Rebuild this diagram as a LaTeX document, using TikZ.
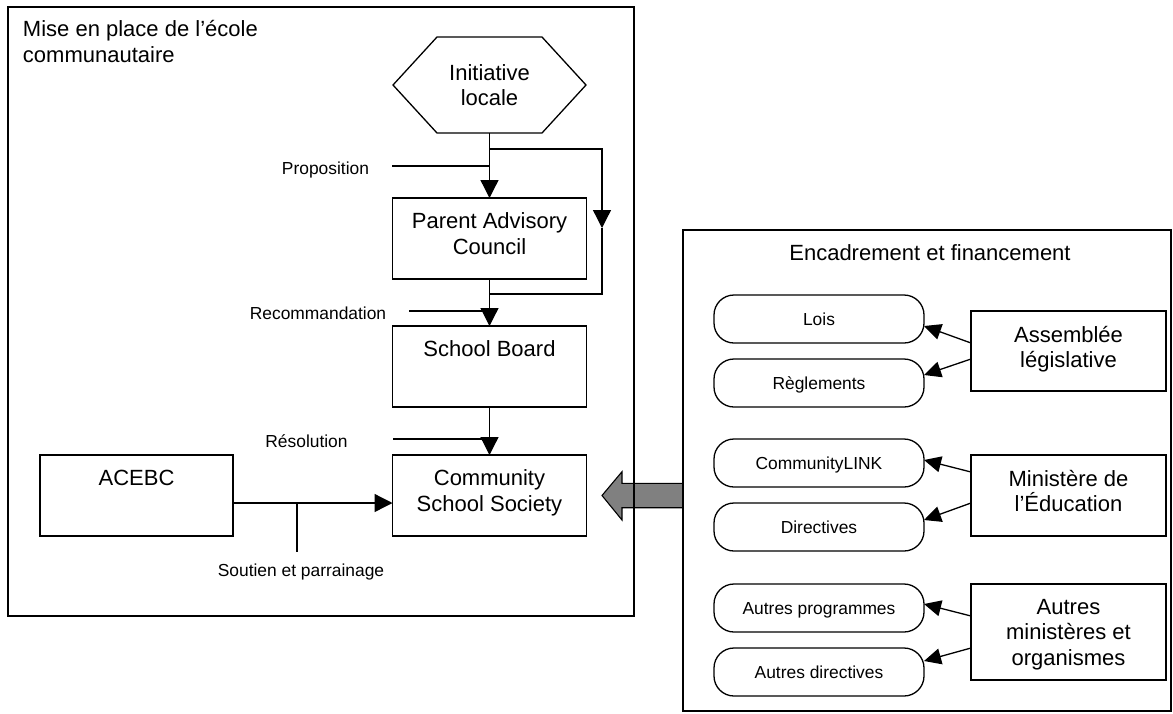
\documentclass[tikz,border=0pt]{standalone}
\usepackage{fontspec}
\setmainfont{Liberation Sans}
\usetikzlibrary{arrows.meta}
\definecolor{arrowgray}{HTML}{808080}
\begin{document}
\begin{tikzpicture}[x=1pt,y=-1pt,
  every node/.style={inner sep=0pt, outer sep=0pt},
  ln/.style={line width=1.3pt},
  bigtext/.style={font=\fontsize{22}{25.5}\selectfont, align=center},
  smalltext/.style={font=\fontsize{17.4}{20}\selectfont},
  box/.style={draw, line width=1.3pt, minimum width=194pt, minimum height=81pt},
  rbox/.style={draw, line width=1.3pt, rounded corners=20pt, minimum width=210pt, minimum height=48pt, smalltext, text height=13pt, text depth=0.8pt},
  arr/.style={line width=1.3pt, -{Triangle[length=18pt,width=18pt]}},
  arrs/.style={line width=1.3pt, -{Triangle[length=17pt,width=16pt]}}
]
\useasboundingbox (0,0) rectangle (1173,713);

% gray block arrow
\draw[line width=1.1pt, fill=arrowgray, line join=miter]
  (683,483.3) -- (622,483.3) -- (622,471.7) -- (602,495.5) -- (622,520) -- (622,507.7) -- (683,507.7) -- cycle;

% panels
\draw[ln] (8,7) rectangle (634,616);
\draw[ln] (683,230) rectangle (1171,711);

\node[bigtext, align=left, anchor=north west] (ttl) at (23,20.3) {Mise en place de l’école\\communautaire};
\node[bigtext, anchor=base] (ttr) at (930,260.5) {Encadrement et financement};

% hexagon
\node[bigtext, minimum width=193pt, minimum height=96pt] (hex) at (489.5,85) {Initiative\\locale};
\draw[ln, line join=miter] (hex.west) -- ([xshift=44pt]hex.north west) -- ([xshift=-44pt]hex.north east)
  -- (hex.east) -- ([xshift=-44pt]hex.south east) -- ([xshift=44pt]hex.south west) -- cycle;

% boxes
\node[box] (pac) at (489.5,238.5) {};
\node[box] (board) at (489.5,366.5) {};
\node[box] (css) at (489.5,495.5) {};
\node[box, minimum width=193pt] (acebc) at (136.5,495.5) {};
\node[bigtext, anchor=north] (pact) at ([yshift=-15pt]pac.north) {Parent Advisory\\Council};
\node[bigtext, anchor=north] (boardt) at ([yshift=-15pt]board.north) {School Board};
\node[bigtext, anchor=north] (csst) at ([yshift=-15pt]css.north) {Community\\School Society};
\node[bigtext, anchor=north] (acebct) at ([yshift=-15pt]acebc.north) {ACEBC};

% main flow
\draw[arr] (hex.south) -- (pac.north);
\draw[arr] (pac.south) -- (board.north);
\draw[arr] (board.south) -- (css.north);

\coordinate (brA) at (489.5,149);
\coordinate (brB) at (602,149);
\coordinate (brM) at (602,228);
\coordinate (brC) at (602,294);
\coordinate (brD) at (489.5,294);
\draw[arr] (brA) -- (brB) -- (brM);
\draw[ln] (brM) -- (brC) -- (brD);

\coordinate (propL) at (392,166);
\draw[ln] (propL) -- (propL -| hex.south);
\coordinate (recL) at (409,311);
\draw[ln] (recL) -- (recL -| pac.south);
\coordinate (resL) at (393,439);
\draw[ln] (resL) -- (resL -| board.south);

\node[smalltext, anchor=base] (prop) at (325.5,174) {Proposition};
\node[smalltext, anchor=base] (rec) at (318,319) {Recommandation};
\node[smalltext, anchor=base] (res) at (306.5,447) {Résolution};
\node[smalltext, anchor=base] (sout) at (301,576) {Soutien et parrainage};

\draw[arr] ([yshift=-7.5pt]acebc.east) -- ([yshift=-7.5pt]css.west);
\coordinate (sj) at (297,503);
\coordinate (sd) at (297,552);
\draw[ln] (sj) -- (sd);

% right panel
\node[rbox] (lois) at (819,319) {Lois};
\node[rbox] (regl) at (819,383) {Règlements};
\node[rbox] (clink) at (819,463) {CommunityLINK};
\node[rbox] (dirv) at (819,527) {Directives};
\node[rbox] (aprog) at (819,608) {Autres programmes};
\node[rbox] (adir) at (819,672) {Autres directives};

\node[box, minimum width=195pt, minimum height=80pt] (asm) at (1068.5,351) {};
\node[box, minimum width=195pt, minimum height=81pt] (mined) at (1068.5,495.5) {};
\node[box, minimum width=195pt, minimum height=96pt] (aut) at (1068.5,632) {};
\node[bigtext, anchor=north] (asmt) at ([yshift=-15pt]asm.north) {Assemblée\\législative};
\node[bigtext, anchor=north] (minedt) at ([yshift=-15pt]mined.north) {Ministère de\\l’Éducation};
\node[bigtext, anchor=north] (autt) at ([yshift=-15pt]aut.north) {Autres\\ministères et\\organismes};

\draw[arrs] ([yshift=8pt]asm.west) -- ([yshift=-7pt]lois.east);
\draw[arrs] ([yshift=-8pt]asm.west) -- ([yshift=8pt]regl.east);
\draw[arrs] ([yshift=23.5pt]mined.west) -- ([yshift=3pt]clink.east);
\draw[arrs] ([yshift=-7.5pt]mined.west) -- ([yshift=7pt]dirv.east);
\draw[arrs] ([yshift=16pt]aut.west) -- ([yshift=4pt]aprog.east);
\draw[arrs] ([yshift=-16pt]aut.west) -- ([yshift=11pt]adir.east);
\end{tikzpicture}
\end{document}
